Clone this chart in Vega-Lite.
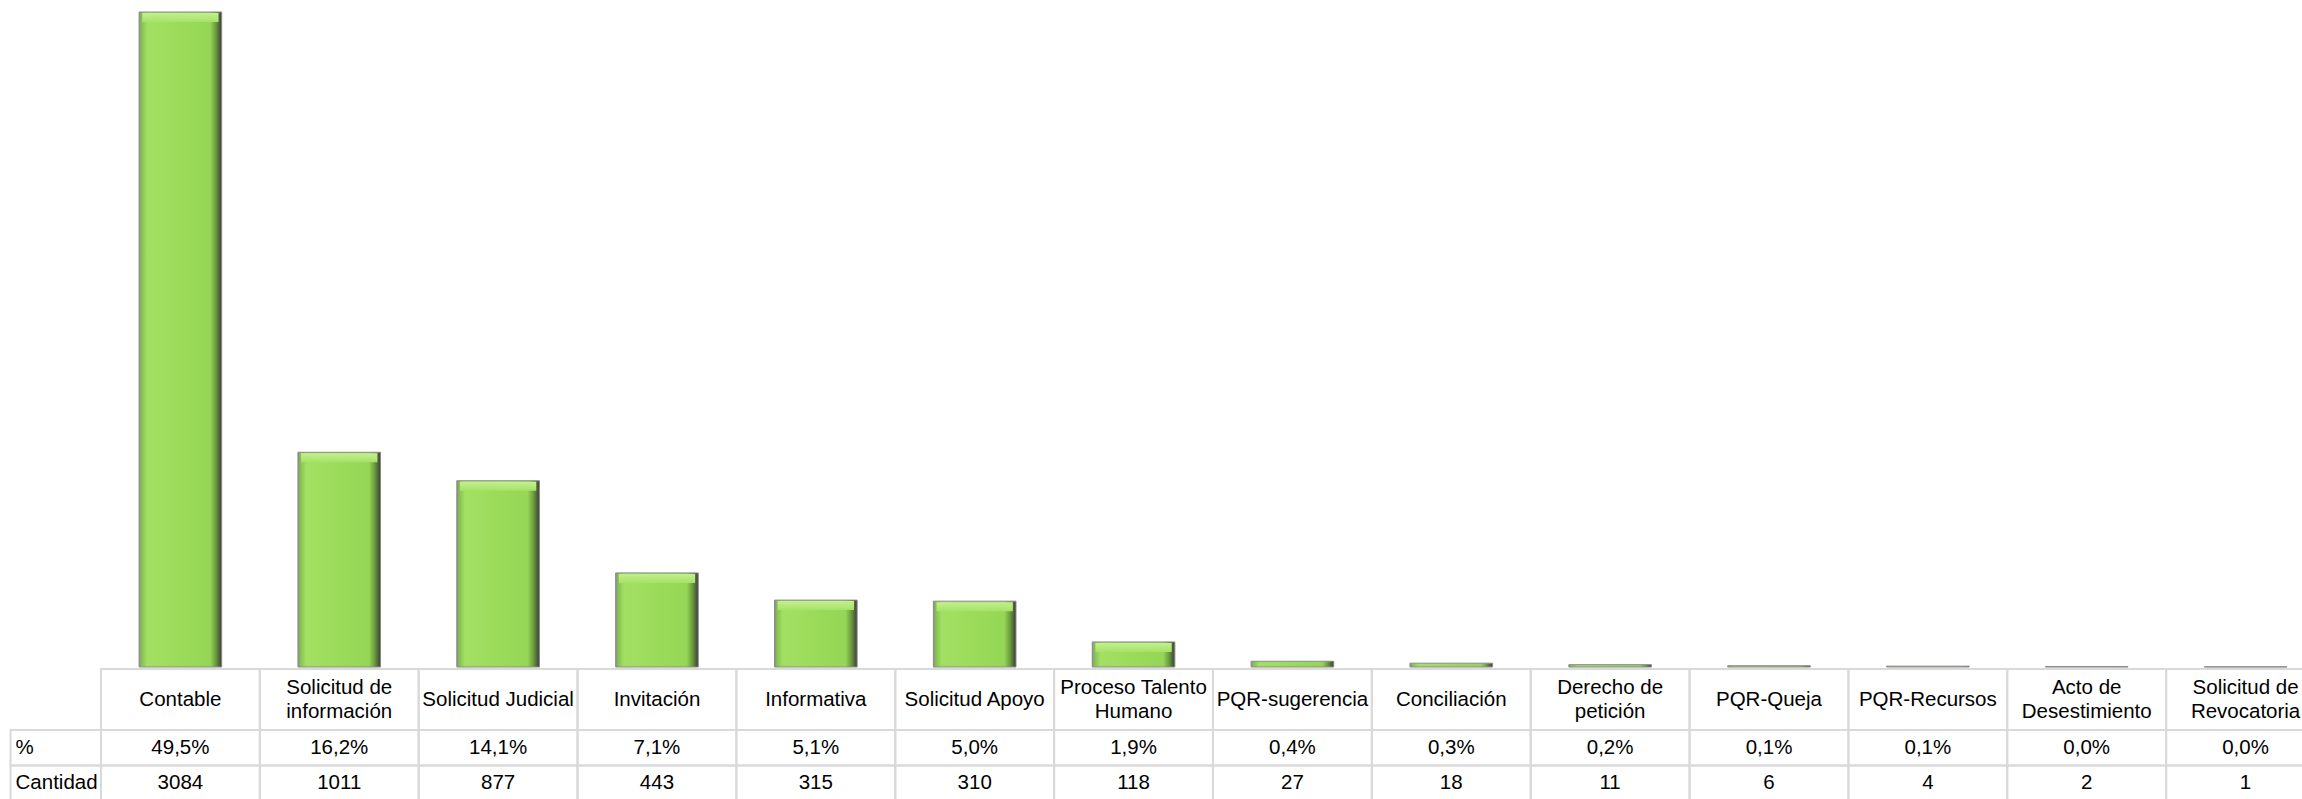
{
  "$schema": "https://vega.github.io/schema/vega-lite/v6.json",
  "width": 2302,
  "height": 799,
  "autosize": {"type": "none"},
  "padding": 0,
  "config": {
    "view": {"stroke": null},
    "font": "Liberation Sans",
    "text": {"font": "Liberation Sans", "fontSize": 20.5, "color": "#000000"}
  },
  "datasets": {
    "tipos": [
      {"tipo": "Contable", "etiqueta": "Contable", "pct": "49,5%", "n": 3084},
      {"tipo": "Solicitud de información", "etiqueta": "Solicitud de\ninformación", "pct": "16,2%", "n": 1011},
      {"tipo": "Solicitud Judicial", "etiqueta": "Solicitud Judicial", "pct": "14,1%", "n": 877},
      {"tipo": "Invitación", "etiqueta": "Invitación", "pct": "7,1%", "n": 443},
      {"tipo": "Informativa", "etiqueta": "Informativa", "pct": "5,1%", "n": 315},
      {"tipo": "Solicitud Apoyo", "etiqueta": "Solicitud Apoyo", "pct": "5,0%", "n": 310},
      {"tipo": "Proceso Talento Humano", "etiqueta": "Proceso Talento\nHumano", "pct": "1,9%", "n": 118},
      {"tipo": "PQR-sugerencia", "etiqueta": "PQR-sugerencia", "pct": "0,4%", "n": 27},
      {"tipo": "Conciliación", "etiqueta": "Conciliación", "pct": "0,3%", "n": 18},
      {"tipo": "Derecho de petición", "etiqueta": "Derecho de\npetición", "pct": "0,2%", "n": 11},
      {"tipo": "PQR-Queja", "etiqueta": "PQR-Queja", "pct": "0,1%", "n": 6},
      {"tipo": "PQR-Recursos", "etiqueta": "PQR-Recursos", "pct": "0,1%", "n": 4},
      {"tipo": "Acto de Desestimiento", "etiqueta": "Acto de\nDesestimiento", "pct": "0,0%", "n": 2},
      {"tipo": "Solicitud de Revocatoria", "etiqueta": "Solicitud de\nRevocatoria", "pct": "0,0%", "n": 1}
    ],
    "rotulos": [
      {"tipo": "rotulo", "fila": "%"},
      {"tipo": "rotulo", "fila": "Cantidad"}
    ]
  },
  "layer": [
    {
      "data": {"name": "tipos"},
      "layer": [
        {
          "mark": {
            "type": "bar",
            "width": {"band": 0.52},
            "stroke": "#8a8a8a",
            "strokeWidth": 1,
            "fill": {
              "gradient": "linear", "x1": 0, "y1": 0, "x2": 1, "y2": 0,
              "stops": [
                {"offset": 0, "color": "#8c8c8c"},
                {"offset": 0.03, "color": "#86c150"},
                {"offset": 0.1, "color": "#a2e063"},
                {"offset": 0.5, "color": "#9bdb59"},
                {"offset": 0.86, "color": "#96d656"},
                {"offset": 0.93, "color": "#6a9a3c"},
                {"offset": 1, "color": "#3c3c3c"}
              ]
            }
          },
          "encoding": {
            "x": {"field": "tipo", "type": "nominal", "sort": null, "axis": null,
              "scale": {"type": "band", "domain": ["rotulo", "Contable", "Solicitud de información", "Solicitud Judicial", "Invitación", "Informativa", "Solicitud Apoyo", "Proceso Talento Humano", "PQR-sugerencia", "Conciliación", "Derecho de petición", "PQR-Queja", "PQR-Recursos", "Acto de Desestimiento", "Solicitud de Revocatoria"], "range": [-57.9, 2325], "paddingInner": 0, "paddingOuter": 0}},
            "y": {"field": "n", "type": "quantitative", "axis": null,
              "scale": {"domain": [0, 3084], "nice": false, "zero": true, "range": [667, 12]}}
          }
        },
        {
          "transform": [{"filter": "datum.n >= 100"}],
          "mark": {
            "type": "bar",
            "width": {"band": 0.48},
            "yOffset": 1,
            "y2Offset": 10,
            "fill": {
              "gradient": "linear", "x1": 0, "y1": 0, "x2": 0, "y2": 1,
              "stops": [
                {"offset": 0, "color": "#c4f08e"},
                {"offset": 1, "color": "#a4e266"}
              ]
            }
          },
          "encoding": {
            "x": {"field": "tipo", "type": "nominal", "sort": null, "axis": null},
            "y": {"field": "n", "type": "quantitative", "axis": null},
            "y2": {"field": "n"}
          }
        }
      ]
    },
    {
      "data": {"name": "tipos"},
      "layer": [
        {
          "mark": {"type": "rect", "fillOpacity": 0, "stroke": "#d9d9d9", "strokeWidth": 2},
          "encoding": {
            "x": {"field": "tipo", "type": "nominal", "sort": null, "axis": null},
            "y": {"datum": "cab", "type": "nominal", "axis": null,
              "scale": {"type": "band", "domain": ["cab"], "range": [669, 730], "paddingInner": 0, "paddingOuter": 0}}
          }
        },
        {
          "transform": [{"filter": "indexof(datum.etiqueta, '\\n') < 0"}],
          "mark": {"type": "text", "align": "center", "baseline": "middle"},
          "encoding": {
            "x": {"field": "tipo", "type": "nominal", "sort": null, "axis": null},
            "y": {"datum": "cab", "type": "nominal", "axis": null},
            "text": {"field": "etiqueta"}
          }
        },
        {
          "transform": [{"filter": "indexof(datum.etiqueta, '\\n') >= 0"}],
          "mark": {"type": "text", "align": "center", "baseline": "middle", "lineBreak": "\n", "lineHeight": 24, "dy": -12},
          "encoding": {
            "x": {"field": "tipo", "type": "nominal", "sort": null, "axis": null},
            "y": {"datum": "cab", "type": "nominal", "axis": null},
            "text": {"field": "etiqueta"}
          }
        }
      ]
    },
    {
      "layer": [
        {
          "data": {"name": "tipos"},
          "mark": {"type": "rect", "fillOpacity": 0, "stroke": "#d9d9d9", "strokeWidth": 2},
          "encoding": {
            "x": {"field": "tipo", "type": "nominal", "sort": null, "axis": null},
            "y": {"datum": "%", "type": "nominal", "axis": null,
              "scale": {"type": "band", "domain": ["%", "Cantidad"], "range": [730, 801], "paddingInner": 0, "paddingOuter": 0}}
          }
        },
        {
          "data": {"name": "tipos"},
          "mark": {"type": "rect", "fillOpacity": 0, "stroke": "#d9d9d9", "strokeWidth": 2},
          "encoding": {
            "x": {"field": "tipo", "type": "nominal", "sort": null, "axis": null},
            "y": {"datum": "Cantidad", "type": "nominal", "axis": null}
          }
        },
        {
          "data": {"name": "rotulos"},
          "mark": {"type": "rect", "fillOpacity": 0, "stroke": "#d9d9d9", "strokeWidth": 2, "xOffset": -11, "x2Offset": -79.4},
          "encoding": {
            "x": {"field": "tipo", "type": "nominal", "sort": null, "axis": null},
            "x2": {"datum": "Contable"},
            "y": {"field": "fila", "type": "nominal", "axis": null}
          }
        },
        {
          "data": {"name": "tipos"},
          "mark": {"type": "text", "align": "center", "baseline": "middle"},
          "encoding": {
            "x": {"field": "tipo", "type": "nominal", "sort": null, "axis": null},
            "y": {"datum": "%", "type": "nominal", "axis": null},
            "text": {"field": "pct"}
          }
        },
        {
          "data": {"name": "tipos"},
          "mark": {"type": "text", "align": "center", "baseline": "middle"},
          "encoding": {
            "x": {"field": "tipo", "type": "nominal", "sort": null, "axis": null},
            "y": {"datum": "Cantidad", "type": "nominal", "axis": null},
            "text": {"field": "n", "type": "quantitative", "format": "d"}
          }
        },
        {
          "data": {"name": "rotulos"},
          "mark": {"type": "text", "align": "left", "baseline": "middle", "dx": -6},
          "encoding": {
            "x": {"field": "tipo", "type": "nominal", "sort": null, "axis": null},
            "y": {"field": "fila", "type": "nominal", "axis": null},
            "text": {"field": "fila"}
          }
        }
      ]
    }
  ],
  "resolve": {"scale": {"y": "independent"}}
}
